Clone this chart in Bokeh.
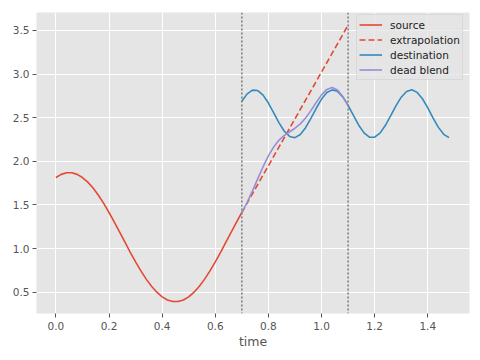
from bokeh.plotting import figure
from bokeh.models import Range1d, FixedTicker, PrintfTickFormatter, Span, Legend
from bokeh.embed import file_html
from bokeh.resources import INLINE

# --- data ---
src_t = [0.00, 0.02, 0.04, 0.06, 0.08, 0.10, 0.12, 0.14, 0.16, 0.18,
         0.20, 0.22, 0.24, 0.26, 0.28, 0.30, 0.32, 0.34, 0.36, 0.38,
         0.40, 0.42, 0.44, 0.46, 0.48, 0.50, 0.52, 0.54, 0.56, 0.58,
         0.60, 0.62, 0.64, 0.66, 0.68, 0.70]
src_y = [1.814, 1.850, 1.868, 1.868, 1.850, 1.814, 1.761, 1.693, 1.611, 1.517,
         1.413, 1.303, 1.188, 1.072, 0.957, 0.847, 0.743, 0.649, 0.567, 0.499,
         0.446, 0.410, 0.392, 0.392, 0.410, 0.446, 0.499, 0.567, 0.649, 0.743,
         0.847, 0.957, 1.072, 1.188, 1.303, 1.413]

extrap_t = [0.70, 1.10]
extrap_y = [1.413, 3.561]

dest_t = [0.70, 0.72, 0.74, 0.76, 0.78, 0.80, 0.82, 0.84, 0.86, 0.88,
          0.90, 0.92, 0.94, 0.96, 0.98, 1.00, 1.02, 1.04, 1.06, 1.08,
          1.10, 1.12, 1.14, 1.16, 1.18, 1.20, 1.22, 1.24, 1.26, 1.28,
          1.30, 1.32, 1.34, 1.36, 1.38, 1.40, 1.42, 1.44, 1.46, 1.48]
dest_y = [2.688, 2.773, 2.816, 2.811, 2.759, 2.668, 2.555, 2.441, 2.345, 2.285,
          2.271, 2.307, 2.385, 2.491, 2.608, 2.713, 2.788, 2.819, 2.802, 2.739,
          2.641, 2.526, 2.414, 2.326, 2.277, 2.276, 2.323, 2.410, 2.521, 2.636,
          2.735, 2.800, 2.820, 2.790, 2.717, 2.612, 2.496, 2.389, 2.309, 2.272]

blend_t = [0.70, 0.72, 0.74, 0.76, 0.78, 0.80, 0.82, 0.84, 0.86, 0.88,
           0.90, 0.92, 0.94, 0.96, 0.98, 1.00, 1.02, 1.04, 1.06, 1.08, 1.10]
blend_y = [1.413, 1.530, 1.661, 1.801, 1.938, 2.062, 2.165, 2.243, 2.298, 2.339,
           2.379, 2.429, 2.497, 2.581, 2.675, 2.762, 2.824, 2.845, 2.817, 2.744, 2.641]

blend_window = [0.7, 1.1]
x_ticks = [0.0, 0.2, 0.4, 0.6, 0.8, 1.0, 1.2, 1.4]
y_ticks = [0.5, 1.0, 1.5, 2.0, 2.5, 3.0, 3.5]

FONT = "DejaVu Sans"

p = figure(frame_width=433, frame_height=301,
           x_range=Range1d(-0.073, 1.557), y_range=Range1d(0.255, 3.706),
           output_backend="svg", toolbar_location=None,
           min_border_left=36, min_border_right=3, min_border_top=12, min_border_bottom=39)

p.background_fill_color = "#E5E5E5"
p.border_fill_color = "white"
p.outline_line_color = None

for ax in (p.xaxis[0], p.yaxis[0]):
    ax.axis_line_color = None
    ax.major_tick_line_color = "#555555"
    ax.major_tick_in = 0
    ax.major_tick_out = 4
    ax.minor_tick_line_color = None
    ax.major_label_text_color = "#555555"
    ax.major_label_text_font = FONT
    ax.major_label_text_font_size = "10.5px"
    ax.formatter = PrintfTickFormatter(format="%.1f")

p.xaxis[0].ticker = FixedTicker(ticks=x_ticks)
p.yaxis[0].ticker = FixedTicker(ticks=y_ticks)
p.xaxis[0].major_label_standoff = 4
p.yaxis[0].major_label_standoff = 3
p.xaxis[0].axis_label = "time"
p.xaxis[0].axis_label_text_font = FONT
p.xaxis[0].axis_label_text_font_style = "normal"
p.xaxis[0].axis_label_text_font_size = "12.5px"
p.xaxis[0].axis_label_text_color = "#555555"
p.xaxis[0].axis_label_standoff = 1

p.xgrid.grid_line_color = "white"
p.ygrid.grid_line_color = "white"
p.xgrid.grid_line_width = 1
p.ygrid.grid_line_width = 1

r_src = p.line(src_t, src_y, line_color="#E24A33", line_width=1.6)
r_ext = p.line(extrap_t, extrap_y, line_color="#E24A33", line_width=1.6, line_dash="6 3")
r_dst = p.line(dest_t, dest_y, line_color="#348ABD", line_width=1.6)
r_bld = p.line(blend_t, blend_y, line_color="#988ED5", line_width=1.6)

for loc in blend_window:
    p.add_layout(Span(location=loc, dimension="height", line_color="#808080",
                      line_width=1.6, line_dash="2 2"))

legend = Legend(items=[("source", [r_src]), ("extrapolation", [r_ext]),
                       ("destination", [r_dst]), ("dead blend", [r_bld])],
                location=(320, 233))
legend.background_fill_color = "#E5E5E5"
legend.background_fill_alpha = 0.8
legend.border_line_color = "#CCCCCC"
legend.border_line_width = 1
legend.label_text_font = FONT
legend.label_text_font_size = "10.5px"
legend.label_text_color = "#222222"
legend.glyph_width = 23
legend.glyph_height = 15
legend.label_height = 15
legend.label_standoff = 8
legend.spacing = 0
legend.padding = 2
legend.margin = 0
p.add_layout(legend, "center")

open("out.html", "w").write(file_html(p, INLINE))
